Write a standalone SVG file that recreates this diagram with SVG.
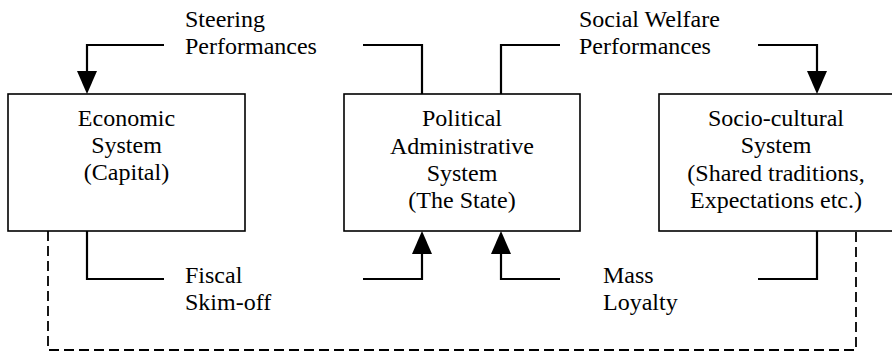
<svg xmlns="http://www.w3.org/2000/svg" width="892" height="352" viewBox="0 0 892 352">
  <style>
    .box { fill: #ffffff; stroke: #000000; stroke-width: 1.6; }
    .lbl { font-family: 'Liberation Serif', 'Times New Roman', serif; font-size: 24px; fill: #000000; }
    .mid { text-anchor: middle; }
    .flow { fill: none; stroke: #000000; stroke-width: 2.2; }
    .dash { fill: none; stroke: #000000; stroke-width: 1.8; stroke-dasharray: 10 5; }
  </style>
  <defs>
    <marker id="head" markerUnits="userSpaceOnUse" markerWidth="24" markerHeight="22" refX="0" refY="10" orient="auto" viewBox="0 0 24 20">
      <path d="M0,0 L23,10 L0,20 Z" fill="#000000"/>
    </marker>
  </defs>

  <rect width="892" height="352" fill="#ffffff"/>

  <!-- connectors -->
  <g id="connectors">
    <!-- steering performances: state -> economy -->
    <path class="flow" d="M164,45 H87 V71" marker-end="url(#head)"/>
    <path class="flow" d="M363,45 H422 V94"/>
    <!-- social welfare performances: state -> socio-cultural -->
    <path class="flow" d="M501,94 V45 H560"/>
    <path class="flow" d="M758,45 H817 V71" marker-end="url(#head)"/>
    <!-- fiscal skim-off: economy -> state -->
    <path class="flow" d="M87,231 V279 H164"/>
    <path class="flow" d="M363,279 H422 V254" marker-end="url(#head)"/>
    <!-- mass loyalty: socio-cultural -> state -->
    <path class="flow" d="M560,279 H501 V254" marker-end="url(#head)"/>
    <path class="flow" d="M758,279 H817 V231"/>
    <!-- dashed link economy <-> socio-cultural -->
    <path class="dash" d="M48,231 V350 H856 V231"/>
  </g>

  <g id="label-steering">
    <text class="lbl" x="185" y="27">Steering</text>
    <text class="lbl" x="185" y="54">Performances</text>
  </g>
  <g id="label-welfare">
    <text class="lbl" x="579" y="27">Social Welfare</text>
    <text class="lbl" x="579" y="54">Performances</text>
  </g>
  <g id="label-fiscal">
    <text class="lbl" x="185" y="283">Fiscal</text>
    <text class="lbl" x="185" y="310">Skim-off</text>
  </g>
  <g id="label-loyalty">
    <text class="lbl" x="603" y="283">Mass</text>
    <text class="lbl" x="603" y="310">Loyalty</text>
  </g>

  <g id="economic-system">
    <rect class="box" x="8" y="94" width="237" height="137"/>
    <text class="lbl mid" x="126.5" y="126">Economic</text>
    <text class="lbl mid" x="126.5" y="153">System</text>
    <text class="lbl mid" x="126.5" y="180">(Capital)</text>
  </g>

  <g id="political-system">
    <rect class="box" x="344" y="94" width="236" height="137"/>
    <text class="lbl mid" x="462" y="126">Political</text>
    <text class="lbl mid" x="462" y="154">Administrative</text>
    <text class="lbl mid" x="462" y="181">System</text>
    <text class="lbl mid" x="462" y="208">(The State)</text>
  </g>

  <g id="socio-cultural-system">
    <rect class="box" x="659" y="94" width="234" height="137"/>
    <text class="lbl mid" x="776" y="126">Socio-cultural</text>
    <text class="lbl mid" x="776" y="153">System</text>
    <text class="lbl mid" x="776" y="181">(Shared traditions,</text>
    <text class="lbl mid" x="776" y="208">Expectations etc.)</text>
  </g>
</svg>
